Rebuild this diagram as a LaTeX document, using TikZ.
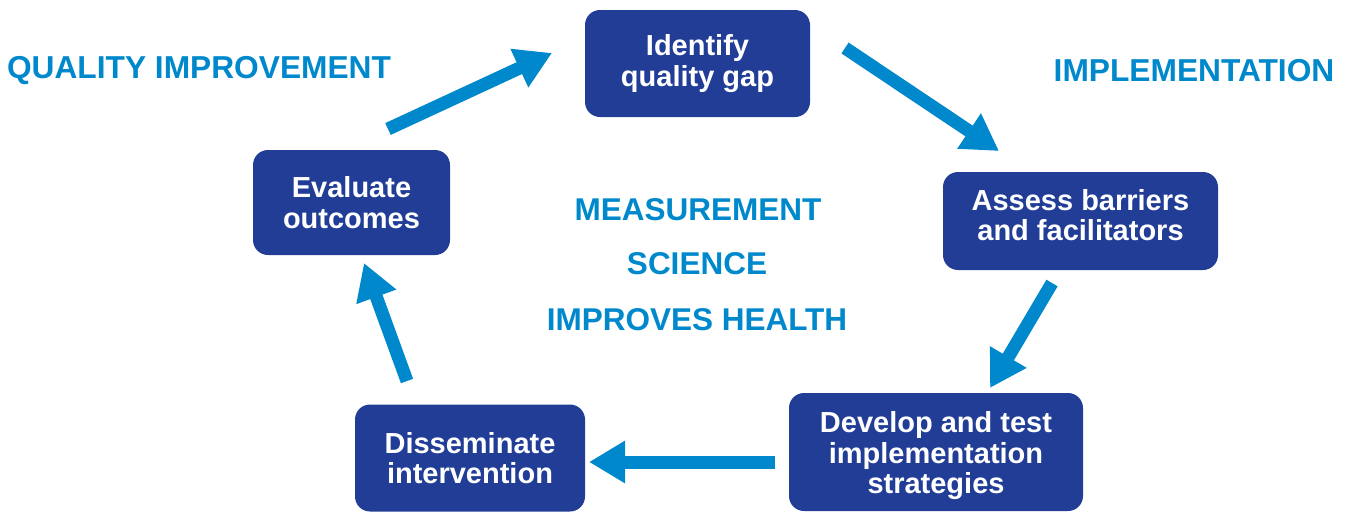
\documentclass[tikz,border=0pt]{standalone}
\usepackage{fontspec}
\setmainfont{Liberation Sans}
\usetikzlibrary{arrows.meta}
\definecolor{boxblue}{RGB}{33,61,150}
\definecolor{arrblue}{RGB}{0,136,204}
\tikzset{
  stepbox/.style={fill=boxblue, rounded corners=15pt, inner sep=0pt},
  boxtext/.style={inner sep=0pt, align=center, text=white,
    font=\fontsize{29}{30.5}\selectfont\bfseries},
  bigarrow/.style={draw=arrblue, line width=13pt, -{Triangle[width=40pt,length=36pt]}},
  lbl/.style={text=arrblue, font=\fontsize{31.7}{34}\selectfont\bfseries, inner sep=0pt},
  clbl/.style={text=arrblue, font=\fontsize{31.5}{33}\selectfont\bfseries, inner sep=0pt}
}
\begin{document}
\begin{tikzpicture}[x=1pt,y=-1pt]
\useasboundingbox (0,0) rectangle (1349,512);
\node[stepbox, minimum width=225pt, minimum height=107pt] (identify) at (697.5,63.5) {};
\node[boxtext] (identifyt) at (697.5,63.5) {Identify\\quality gap};
\node[stepbox, minimum width=275pt, minimum height=98pt] (assess) at (1080.5,221) {};
\node[boxtext] (assesst) at (1080.5,215) {Assess barriers\\and facilitators};
\node[stepbox, minimum width=294pt, minimum height=118pt] (develop) at (936,452) {};
\node[boxtext] (developt) at (936,456) {Develop and test\\implementation\\strategies};
\node[stepbox, minimum width=230pt, minimum height=107pt] (dissem) at (470,458) {};
\node[boxtext] (dissemt) at (470,458) {Disseminate\\intervention};
\node[stepbox, minimum width=197pt, minimum height=105pt] (evaluate) at (351.5,202.5) {};
\node[boxtext] (evaluatet) at (351.5,202.5) {Evaluate\\outcomes};

\node[lbl] (qi) at (199,71) {QUALITY IMPROVEMENT};
\node[lbl] (impl) at (1194,71) {IMPLEMENTATION};
\node[clbl] (meas) at (698,210) {MEASUREMENT};
\node[clbl] (sci) at (697,264) {SCIENCE};
\node[clbl] (imp) at (697,320) {IMPROVES HEALTH};

\coordinate (a1s) at (388,129); \coordinate (a1e) at (552,53);
\coordinate (a2s) at (845,48);  \coordinate (a2e) at (999,151);
\coordinate (a3s) at (1052,283); \coordinate (a3e) at (990,388);
\coordinate (a4s) at (775,462); \coordinate (a4e) at (589,462);
\coordinate (a5s) at (407,381); \coordinate (a5e) at (364,263);

\draw[bigarrow] (a1s) -- (a1e);
\draw[bigarrow] (a2s) -- (a2e);
\draw[bigarrow] (a3s) -- (a3e);
\draw[bigarrow] (a4s) -- (a4e);
\draw[bigarrow] (a5s) -- (a5e);
\end{tikzpicture}
\end{document}
